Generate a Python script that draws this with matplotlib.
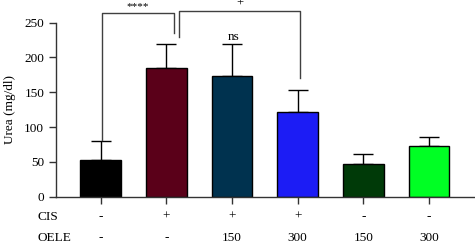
import matplotlib.pyplot as plt
import matplotlib.transforms as mtransforms

# data
means = [53, 185, 173, 121, 47, 73]
errs = [27, 34, 46, 32, 14, 12]
colors = ["#000000", "#5a0019", "#00324f", "#1c1cf5", "#003a08", "#00ff24"]
cis = ["-", "+", "+", "+", "-", "-"]
oele = ["-", "-", "150", "300", "150", "300"]
yticks = [0, 50, 100, 150, 200, 250]

plt.rcParams["font.family"] = ["Liberation Serif", "DejaVu Serif"]
plt.rcParams["font.size"] = 9.5

fig = plt.figure(figsize=(4.75, 2.41), dpi=100)
ax = fig.add_axes([0.118, 0.184, 0.88, 0.722])

x = list(range(len(means)))
ax.bar(x, means, width=0.62, color=colors, edgecolor="black", linewidth=1.0, zorder=2)
ax.errorbar(x, means, yerr=[[0] * len(errs), errs], fmt="none", ecolor="black",
            elinewidth=1.0, capsize=7, capthick=1.0, zorder=1)

ax.set_xlim(-0.68, 5.685)
ax.set_ylim(0, 250)
ax.set_yticks(yticks)
ax.set_xticks(x)
ax.set_xticklabels([""] * len(x))
ax.tick_params(axis="both", direction="out", length=5, width=1, colors="#333333",
               labelcolor="black", labelsize=9.5)
for s in ["top", "right"]:
    ax.spines[s].set_visible(False)
for s in ["left", "bottom"]:
    ax.spines[s].set_linewidth(1.0)
    ax.spines[s].set_color("#333333")
ax.set_ylabel("Urea (mg/dl)", fontsize=9.5, labelpad=6)

# treatment table under the axis
trans = mtransforms.blended_transform_factory(ax.transData, ax.transAxes)
for i in x:
    ax.text(i, -0.115, cis[i], transform=trans, ha="center", va="center", fontsize=9.5)
    ax.text(i, -0.237, oele[i], transform=trans, ha="center", va="center", fontsize=9.5)
fig.text(0.08, 1 - 216.7 / 241, "CIS", ha="left", va="center", fontsize=9.5)
fig.text(0.08, 1 - 238 / 241, "OELE", ha="left", va="center", fontsize=9.5)

# significance brackets
lc = "#404040"
ax.plot([0.015, 0.015, 1.11, 1.11], [81, 264, 264, 235], color=lc, lw=1.0, clip_on=False)
ax.plot([1.19, 1.19, 3.035, 3.035], [230, 267, 267, 170], color=lc, lw=1.0, clip_on=False)
ax.text(0.57, 266, "****", ha="center", va="bottom", fontsize=8)
ax.text(2.12, 268, "+", ha="center", va="bottom", fontsize=9)
ax.text(2.02, 221, "ns", ha="center", va="bottom", fontsize=9.5)

fig.savefig("out.png", dpi=100)
